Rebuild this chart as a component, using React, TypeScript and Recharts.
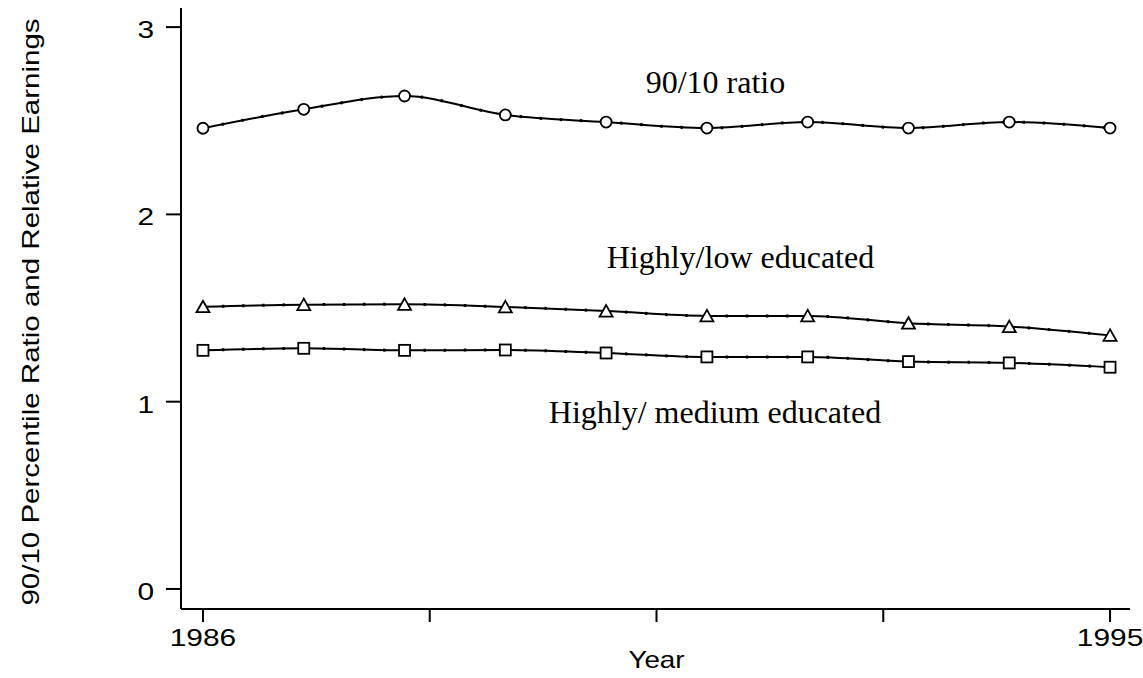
import React from 'react';
import { LineChart, Line, XAxis, YAxis, ReferenceDot, Label } from 'recharts';

const years = [1986, 1987, 1988, 1989, 1990, 1991, 1992, 1993, 1994, 1995];
const ratio9010 = [2.46, 2.561, 2.632, 2.531, 2.493, 2.461, 2.493, 2.461, 2.493, 2.461];
const highlyLow = [1.507, 1.518, 1.52, 1.506, 1.484, 1.458, 1.458, 1.419, 1.401, 1.354];
const highlyMedium = [1.274, 1.285, 1.274, 1.276, 1.26, 1.239, 1.239, 1.214, 1.207, 1.184];

const xTicks = [1986, 1988.25, 1990.5, 1992.75, 1995];
const xTickLabels = ['1986', '', '', '', '1995'];
const yTicks = [0, 1, 2, 3];

const annotationTexts = ['90/10 ratio', 'Highly/low educated', 'Highly/ medium educated'];
const annotationX = [1991.085, 1991.333, 1991.08];
const annotationY = [2.648, 1.714, 0.886];

const data = years.map((year, i) => ({
  year,
  r9010: ratio9010[i],
  low: highlyLow[i],
  med: highlyMedium[i],
}));

const CircleDot = (p: any) =>
  p.cx == null ? null : (
    <circle key={`c-${p.index}`} cx={p.cx} cy={p.cy} r={5.5} fill="#fff" stroke="#000" strokeWidth={1.8} />
  );

const TriangleDot = (p: any) =>
  p.cx == null ? null : (
    <polygon
      key={`t-${p.index}`}
      points={`${p.cx},${p.cy - 6} ${p.cx - 6.5},${p.cy + 5.5} ${p.cx + 6.5},${p.cy + 5.5}`}
      fill="#fff"
      stroke="#000"
      strokeWidth={1.8}
      strokeLinejoin="miter"
    />
  );

const SquareDot = (p: any) =>
  p.cx == null ? null : (
    <rect key={`s-${p.index}`} x={p.cx - 5.5} y={p.cy - 5.5} width={11} height={11} fill="#fff" stroke="#000" strokeWidth={1.8} />
  );

const XTick = (p: any) => {
  const idx = xTicks.indexOf(p.payload.value);
  const txt = idx >= 0 ? xTickLabels[idx] : '';
  if (!txt) return null;
  return (
    <g transform={`translate(${p.x},${p.y})`}>
      <text
        transform="scale(1.22,1)"
        textAnchor="middle"
        dy={17.5}
        fontFamily="'Liberation Sans', Arial, sans-serif"
        fontSize={24.5}
        fill="#000"
      >
        {txt}
      </text>
    </g>
  );
};

const YTick = (p: any) => (
  <g transform={`translate(${p.x},${p.y})`}>
    <text
      transform="scale(1.3,1)"
      textAnchor="end"
      dy={11}
      fontFamily="'Liberation Sans', Arial, sans-serif"
      fontSize={23}
      fill="#000"
    >
      {p.payload.value}
    </text>
  </g>
);

const YearLabel = () => (
  <g transform="translate(656.5,668)">
    <text transform="scale(1.16,1)" textAnchor="middle" fontFamily="'Liberation Sans', Arial, sans-serif" fontSize={24} fill="#000">
      Year
    </text>
  </g>
);

const YLabel = () => (
  <g transform="translate(31,312) rotate(-90)">
    <text
      transform="scale(1.23,1)"
      textAnchor="middle"
      dominantBaseline="central"
      fontFamily="'Liberation Sans', Arial, sans-serif"
      fontSize={24}
      fill="#000"
    >
      90/10 Percentile Ratio and Relative Earnings
    </text>
  </g>
);

const makeAnnotation = (txt: string) => (p: any) => (
  <text
    x={p.cx}
    y={p.cy}
    textAnchor="middle"
    fontFamily="'Liberation Serif', 'Times New Roman', serif"
    fontSize={32}
    fill="#000"
  >
    {txt}
  </text>
);

const axisStroke = { stroke: '#000', strokeWidth: 2 };

export default function App() {
  return (
    <div style={{ position: 'fixed', left: 0, top: 0, width: 1143, height: 678, background: '#fff' }}>
      <LineChart
        width={1143}
        height={678}
        data={data}
        margin={{ top: 8, right: 13, bottom: 29, left: 121 }}
      >
        <XAxis
          dataKey="year"
          type="number"
          domain={[1985.782, 1995.198]}
          ticks={xTicks}
          interval={0}
          tick={<XTick />}
          tickSize={13}
          tickMargin={6}
          axisLine={axisStroke}
          tickLine={axisStroke}
          height={40}
          allowDataOverflow
        >
          <Label content={<YearLabel />} />
        </XAxis>
        <YAxis
          type="number"
          domain={[-0.107, 3.102]}
          ticks={yTicks}
          interval={0}
          tick={<YTick />}
          tickSize={15}
          tickMargin={12}
          axisLine={axisStroke}
          tickLine={axisStroke}
          width={60}
          allowDataOverflow
        >
          <Label content={<YLabel />} />
        </YAxis>

        <Line type="monotone" dataKey="r9010" stroke="#000" strokeWidth={2} dot={CircleDot} isAnimationActive={false} legendType="none" />
        <Line type="monotone" dataKey="r9010" stroke="#000" strokeWidth={3} strokeDasharray="2.5 17.66" strokeDashoffset={1.25} dot={false} isAnimationActive={false} legendType="none" />

        <Line type="monotone" dataKey="low" stroke="#000" strokeWidth={2} dot={TriangleDot} isAnimationActive={false} legendType="none" />
        <Line type="monotone" dataKey="low" stroke="#000" strokeWidth={3} strokeDasharray="2.5 17.66" strokeDashoffset={1.25} dot={false} isAnimationActive={false} legendType="none" />

        <Line type="monotone" dataKey="med" stroke="#000" strokeWidth={2} dot={SquareDot} isAnimationActive={false} legendType="none" />
        <Line type="monotone" dataKey="med" stroke="#000" strokeWidth={3} strokeDasharray="2.5 17.66" strokeDashoffset={1.25} dot={false} isAnimationActive={false} legendType="none" />

        {annotationTexts.map((t, i) => (
          <ReferenceDot
            key={t}
            x={annotationX[i]}
            y={annotationY[i]}
            r={1}
            shape={makeAnnotation(t)}
            ifOverflow="visible"
          />
        ))}
      </LineChart>
    </div>
  );
}
